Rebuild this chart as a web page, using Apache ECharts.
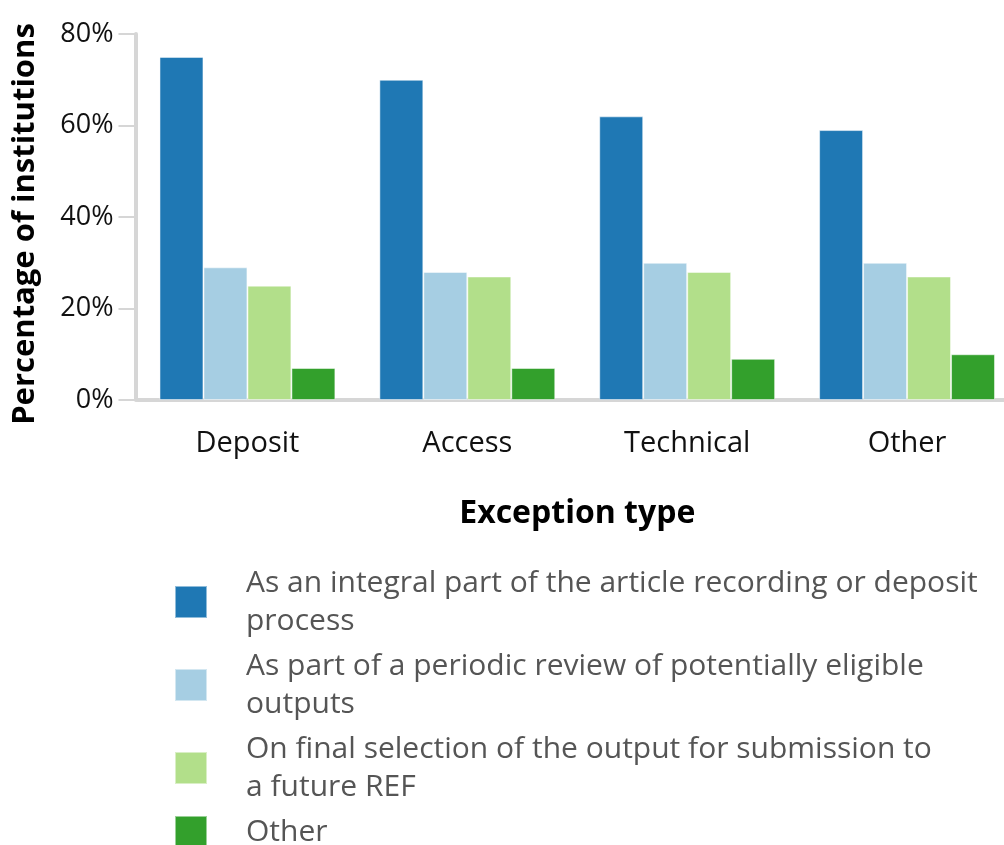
<!DOCTYPE html>
<html>
<head>
<meta charset="utf-8">
<script src="https://cdn.jsdelivr.net/npm/echarts@6/dist/echarts.min.js"></script>
<style>
  html, body { margin: 0; padding: 0; background: #fff; overflow: hidden; }
  /* canvas is a bit wider than the window so the plot runs past the right edge */
  #chart { width: 1017px; height: 845px; }
</style>
</head>
<body>
<div id="chart"></div>
<script>
const categories = ['Deposit', 'Access', 'Technical', 'Other']
const seriesNames = [
  'As an integral part of the article recording or deposit\nprocess',
  'As part of a periodic review of potentially eligible\noutputs',
  'On final selection of the output for submission to\na future REF',
  'Other'
]
const integralValues = [75, 70, 62, 59]
const periodicValues = [29, 28, 30, 30]
const finalValues = [25, 27, 28, 27]
const otherValues = [7, 7, 9, 10]
const yTicks = [0, 20, 40, 60, 80]

const colors = ['#1f78b4', '#a6cee3', '#b2df8a', '#33a02c']
const font = '"Open Sans", "Noto Sans", sans-serif'
const axisGrey = '#d6d6d6'

const chart = echarts.init(document.getElementById('chart'))

const seriesData = [integralValues, periodicValues, finalValues, otherValues]

chart.setOption({
  backgroundColor: '#fff',
  animation: false,
  color: colors,
  textStyle: { fontFamily: font },
  grid: {
    left: 137.5,
    top: 34,
    right: 0,
    height: 366
  },
  legend: {
    orient: 'vertical',
    left: 169,
    top: 559,
    itemWidth: 32,
    itemHeight: 32,
    itemGap: 7,
    icon: 'rect',
    data: seriesNames,
    textStyle: {
      fontFamily: font,
      fontSize: 30,
      color: '#555',
      lineHeight: 38,
      padding: [0, 0, 0, 34]
    }
  },
  xAxis: {
    type: 'category',
    data: categories,
    offset: 2,
    name: 'Exception type',
    nameLocation: 'middle',
    nameGap: 96,
    nameTextStyle: {
      fontFamily: font,
      fontSize: 32,
      fontWeight: 'bold',
      color: '#000'
    },
    axisLine: { lineStyle: { color: axisGrey, width: 4 } },
    axisTick: {
      alignWithLabel: true,
      length: 17,
      lineStyle: { color: axisGrey, width: 2 }
    },
    axisLabel: {
      fontFamily: font,
      fontSize: 29,
      color: '#111',
      margin: 27
    }
  },
  yAxis: {
    type: 'value',
    min: yTicks[0],
    max: yTicks[yTicks.length - 1],
    interval: 20,
    offset: 2,
    name: 'Percentage of institutions',
    nameLocation: 'middle',
    nameGap: 95,
    nameTextStyle: {
      fontFamily: font,
      fontSize: 31,
      fontWeight: 'bold',
      color: '#000',
      padding: [0, 14, 0, 0]
    },
    axisLine: { show: true, lineStyle: { color: axisGrey, width: 4 } },
    axisTick: { show: true, length: 17, lineStyle: { color: axisGrey, width: 2 } },
    splitLine: { show: false },
    axisLabel: {
      fontFamily: font,
      fontSize: 27,
      color: '#111',
      margin: 22,
      formatter: v => v + '%'
    }
  },
  series: seriesNames.map((name, i) => ({
    name: name,
    type: 'bar',
    data: seriesData[i],
    barGap: '0%',
    barCategoryGap: '20%',
    itemStyle: {
      color: colors[i],
      borderColor: 'rgba(255,255,255,0.5)',
      borderWidth: 1
    }
  }))
})
</script>
</body>
</html>
